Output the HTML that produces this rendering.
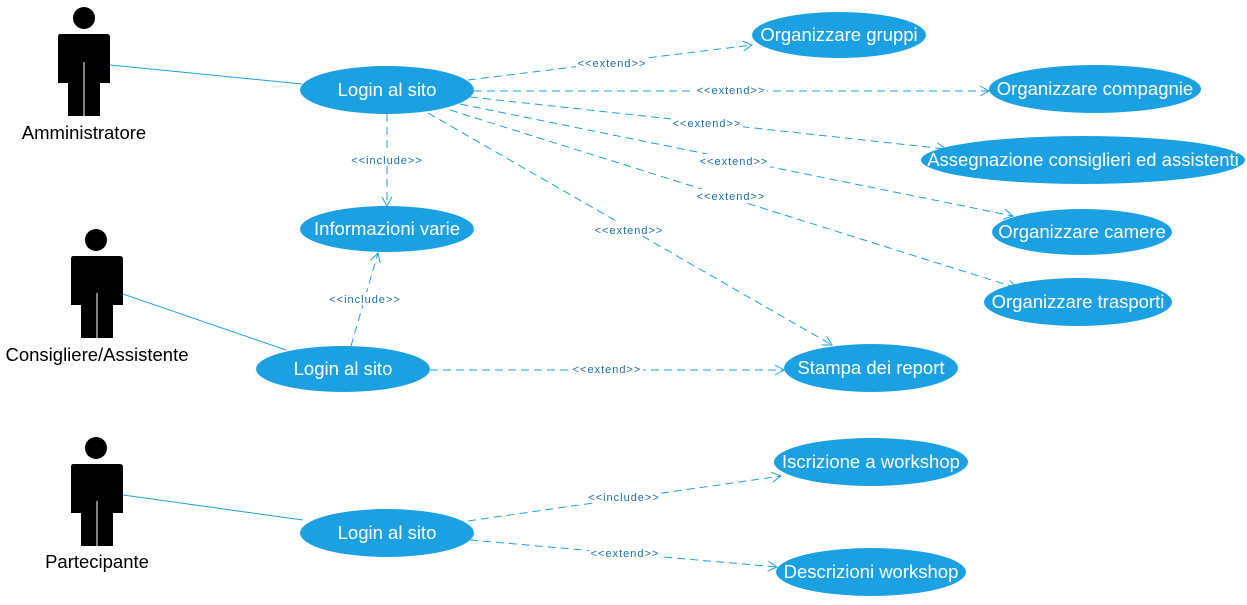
<!DOCTYPE html>
<html><head><meta charset="utf-8"><style>
html,body{margin:0;padding:0;background:#fff;}
svg{display:block;}
.uc{fill:#1ba1e2;}
.ut{fill:#fff;font-family:"Liberation Sans",sans-serif;font-size:18.5px;text-anchor:middle;}
.d{stroke:#1ba1e2;stroke-width:1;stroke-dasharray:8,5;fill:none;marker-end:url(#ah);}
.s{stroke:#1ba1e2;stroke-width:1;}
.lb{fill:#1a6fa8;font-family:"Liberation Sans",sans-serif;font-size:11px;text-anchor:middle;letter-spacing:1px;}
.lbg{fill:#fff;}
.at{fill:#000;font-family:"Liberation Sans",sans-serif;font-size:18.5px;text-anchor:middle;}
</style></head><body>
<svg width="1247" height="605" viewBox="0 0 1247 605" xmlns="http://www.w3.org/2000/svg">
<defs>
<marker id="ah" markerWidth="12" markerHeight="12" refX="10" refY="6" orient="auto" markerUnits="userSpaceOnUse">
<path d="M1,1 L10,6 L1,11" fill="none" stroke="#1ba1e2" stroke-width="1"/>
</marker>
</defs>
<g class="s">
<line x1="110" y1="65" x2="302" y2="84"/>
<line x1="123" y1="294" x2="286" y2="350"/>
<line x1="123" y1="495" x2="303" y2="520"/>
</g>
<g>
<line class="d" x1="468" y1="80" x2="752" y2="45"/>
<line class="d" x1="474" y1="91" x2="989" y2="91"/>
<line class="d" x1="470" y1="97" x2="946" y2="149"/>
<line class="d" x1="460" y1="104" x2="1013" y2="216"/>
<line class="d" x1="450" y1="110" x2="1017" y2="288"/>
<line class="d" x1="428" y1="113" x2="832" y2="345"/>
<line class="d" x1="387" y1="114" x2="387" y2="206"/>
<line class="d" x1="351" y1="346" x2="378" y2="253"/>
<line class="d" x1="430" y1="370" x2="784" y2="370"/>
<line class="d" x1="468" y1="521" x2="781" y2="476"/>
<line class="d" x1="470" y1="540" x2="777" y2="567"/>
</g>
<g>
<rect class="lbg" x="576" y="56" width="72" height="13"/><text class="lb" x="612" y="67">&lt;&lt;extend&gt;&gt;</text>
<rect class="lbg" x="695" y="83" width="72" height="13"/><text class="lb" x="731" y="94">&lt;&lt;extend&gt;&gt;</text>
<rect class="lbg" x="671" y="116" width="72" height="13"/><text class="lb" x="707" y="127">&lt;&lt;extend&gt;&gt;</text>
<rect class="lbg" x="698" y="154" width="72" height="13"/><text class="lb" x="734" y="165">&lt;&lt;extend&gt;&gt;</text>
<rect class="lbg" x="695" y="189" width="72" height="13"/><text class="lb" x="731" y="200">&lt;&lt;extend&gt;&gt;</text>
<rect class="lbg" x="593" y="223" width="72" height="13"/><text class="lb" x="629" y="234">&lt;&lt;extend&gt;&gt;</text>
<rect class="lbg" x="350" y="153" width="74" height="13"/><text class="lb" x="387" y="164">&lt;&lt;include&gt;&gt;</text>
<rect class="lbg" x="328" y="292" width="74" height="13"/><text class="lb" x="365" y="303">&lt;&lt;include&gt;&gt;</text>
<rect class="lbg" x="571" y="362" width="72" height="13"/><text class="lb" x="607" y="373">&lt;&lt;extend&gt;&gt;</text>
<rect class="lbg" x="587" y="490" width="74" height="13"/><text class="lb" x="624" y="501">&lt;&lt;include&gt;&gt;</text>
<rect class="lbg" x="589" y="546" width="72" height="13"/><text class="lb" x="625" y="557">&lt;&lt;extend&gt;&gt;</text>
</g>
<g>
<ellipse class="uc" cx="387" cy="90" rx="87" ry="24"/><text class="ut" x="387" y="96">Login al sito</text>
<ellipse class="uc" cx="387" cy="229" rx="87" ry="23"/><text class="ut" x="387" y="235">Informazioni varie</text>
<ellipse class="uc" cx="343" cy="369" rx="87" ry="23"/><text class="ut" x="343" y="375">Login al sito</text>
<ellipse class="uc" cx="387" cy="533" rx="87" ry="24"/><text class="ut" x="387" y="539">Login al sito</text>
<ellipse class="uc" cx="839" cy="35" rx="87" ry="23"/><text class="ut" x="839" y="41">Organizzare gruppi</text>
<ellipse class="uc" cx="1095" cy="89" rx="106" ry="24"/><text class="ut" x="1095" y="95">Organizzare compagnie</text>
<ellipse class="uc" cx="1083" cy="160" rx="162" ry="24"/><text class="ut" x="1083" y="166">Assegnazione consiglieri ed assistenti</text>
<ellipse class="uc" cx="1082" cy="232" rx="90" ry="23"/><text class="ut" x="1082" y="238">Organizzare camere</text>
<ellipse class="uc" cx="1078" cy="302" rx="94" ry="24"/><text class="ut" x="1078" y="308">Organizzare trasporti</text>
<ellipse class="uc" cx="871" cy="368" rx="87" ry="24"/><text class="ut" x="871" y="374">Stampa dei report</text>
<ellipse class="uc" cx="871" cy="462" rx="97" ry="24"/><text class="ut" x="871" y="468">Iscrizione a workshop</text>
<ellipse class="uc" cx="871" cy="572" rx="95" ry="24"/><text class="ut" x="871" y="578">Descrizioni workshop</text>
</g>
<g fill="#000">
<circle cx="84" cy="18" r="11"/>
<path d="M60,34 H107 Q110,34 110,37 V83 H100 V116 H68 V83 H58 V37 Q58,34 60,34 Z"/>
<line x1="84" y1="62" x2="84" y2="116" stroke="#fff" stroke-width="1"/>
<circle cx="96" cy="240" r="11"/>
<path d="M73,256 H120 Q123,256 123,259 V305 H113 V338 H81 V305 H71 V259 Q71,256 73,256 Z"/>
<line x1="97" y1="293" x2="97" y2="338" stroke="#fff" stroke-width="1"/>
<circle cx="96" cy="448" r="11"/>
<path d="M73,464 H120 Q123,464 123,467 V513 H113 V546 H81 V513 H71 V467 Q71,464 73,464 Z"/>
<line x1="97" y1="501" x2="97" y2="546" stroke="#fff" stroke-width="1"/>
</g>
<text class="at" x="84" y="139">Amministratore</text>
<text class="at" x="97" y="361">Consigliere/Assistente</text>
<text class="at" x="97" y="568">Partecipante</text>
</svg>
</body></html>
